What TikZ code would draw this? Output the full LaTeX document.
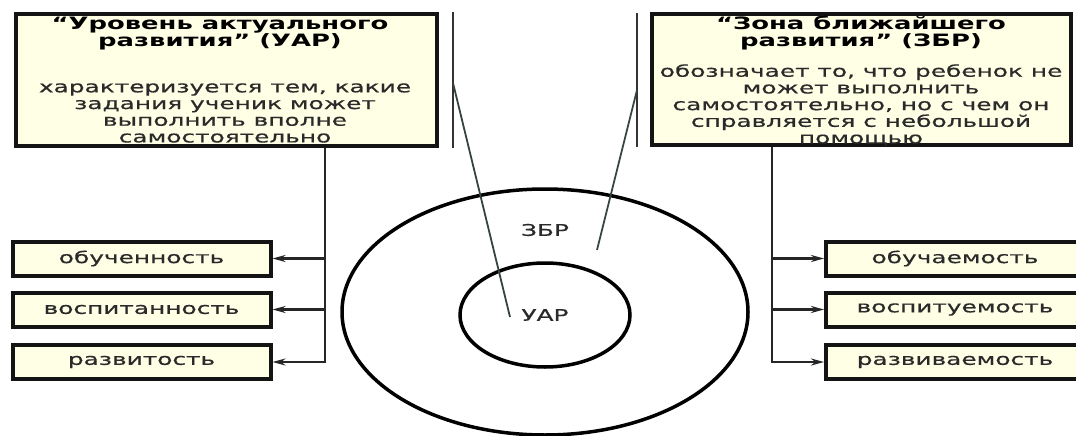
\documentclass[tikz,border=0pt]{standalone}
\usepackage{fontspec}
\setmainfont{DejaVu Sans}[FakeStretch=1.55, FakeBold=0.6]
\newfontfamily\titlefont{DejaVu Sans Bold}[FakeStretch=1.52]
\usetikzlibrary{shapes.geometric,arrows.meta}
\definecolor{boxfill}{HTML}{FFFFE6}
\definecolor{ink}{HTML}{2A2A2A}
\definecolor{diagc}{HTML}{34463A}
\tikzset{
  bigbox/.style={draw=black!92, fill=boxfill, line width=4pt, inner sep=0pt},
  smallbox/.style={draw=black!92, fill=boxfill, line width=4pt, inner sep=0pt,
    minimum width=258pt, minimum height=34pt, text=ink,
    font=\fontsize{16}{16.7}\selectfont},
  titletext/.style={align=center, text=black, inner sep=0pt,
    font=\fontsize{17}{17}\titlefont},
  bodytext/.style={align=center, text=ink, inner sep=0pt,
    font=\fontsize{16}{16.7}\selectfont},
  conn/.style={draw=black!85, line width=2.3pt},
  arr/.style={conn, -{Stealth[length=13pt,width=7pt]}},
  bar/.style={draw=black!80, line width=2.5pt},
  diagline/.style={draw=diagc, line width=1.8pt},
  ring/.style={ellipse, draw=black, line width=3.5pt, inner sep=0pt},
  ringtext/.style={text=ink, inner sep=0pt, font=\fontsize{16}{16}\selectfont}
}
\begin{document}
\begin{tikzpicture}[x=1pt,y=-1pt]
\useasboundingbox (0,0) rectangle (1076,436);

% big boxes
\node[bigbox, minimum width=421pt, minimum height=132pt] (uar) at (226.5,80) {};
\node[bigbox, minimum width=419pt, minimum height=131pt] (zbr) at (861.5,79.5) {};

\node[titletext] (uarT) at (220,33.5) {“Уровень актуального\\развития” (УАР)};
\node[bodytext] (uarB) at (225,113) {характеризуется тем, какие\\задания ученик может\\выполнить вполне\\самостоятельно};

\node[titletext] (zbrT) at (861,33.5) {“Зона ближайшего\\развития” (ЗБР)};
\node[bodytext] (zbrB) at (861,105) {обозначает то, что ребенок не\\может выполнить\\самостоятельно, но с чем он\\справляется с небольшой\\помощью};

% small boxes left
\node[smallbox] (l1) at (141.5,258.5) {обученность};
\node[smallbox] (l2) at (141.5,309.5) {воспитанность};
\node[smallbox] (l3) at (141.5,362) {развитость};

% small boxes right
\node[smallbox, anchor=west] (r1) at (824,258.5) {обучаемость};
\node[smallbox, anchor=west] (r2) at (824,309.5) {воспитуемость};
\node[smallbox, anchor=west] (r3) at (824,362) {развиваемость};

% connectors left
\coordinate (lj) at (325,148);
\draw[arr] (lj) |- (l3.east);
\draw[arr] (lj |- l1.east) -- (l1.east);
\draw[arr] (lj |- l2.east) -- (l2.east);

% connectors right
\coordinate (rj) at (772,147);
\draw[arr] (rj) |- (r3.west);
\draw[arr] (rj |- r1.west) -- (r1.west);
\draw[arr] (rj |- r2.west) -- (r2.west);

% rings
\node[ring, minimum width=406pt, minimum height=246pt] (outer) at (545,312) {};
\node[ring, minimum width=170pt, minimum height=104pt] (inner) at (545,315) {};
\node[ringtext] (zbrL) at (545,230) {ЗБР};
\node[ringtext] (uarL) at (545,315) {УАР};

% vertical bars
\coordinate (b1t) at (453,12);
\coordinate (b1b) at (453,148);
\coordinate (b2t) at (637,13);
\coordinate (b2b) at (637,147);
\draw[bar] (b1t) -- (b1b);
\draw[bar] (b2t) -- (b2b);

% diagonal pointers
\coordinate (d1s) at (453,83);
\coordinate (d1e) at (510,317);
\coordinate (d2s) at (637,90);
\coordinate (d2e) at (597,250);
\draw[diagline] (d1s) -- (d1e);
\draw[diagline] (d2s) -- (d2e);
\end{tikzpicture}
\end{document}
